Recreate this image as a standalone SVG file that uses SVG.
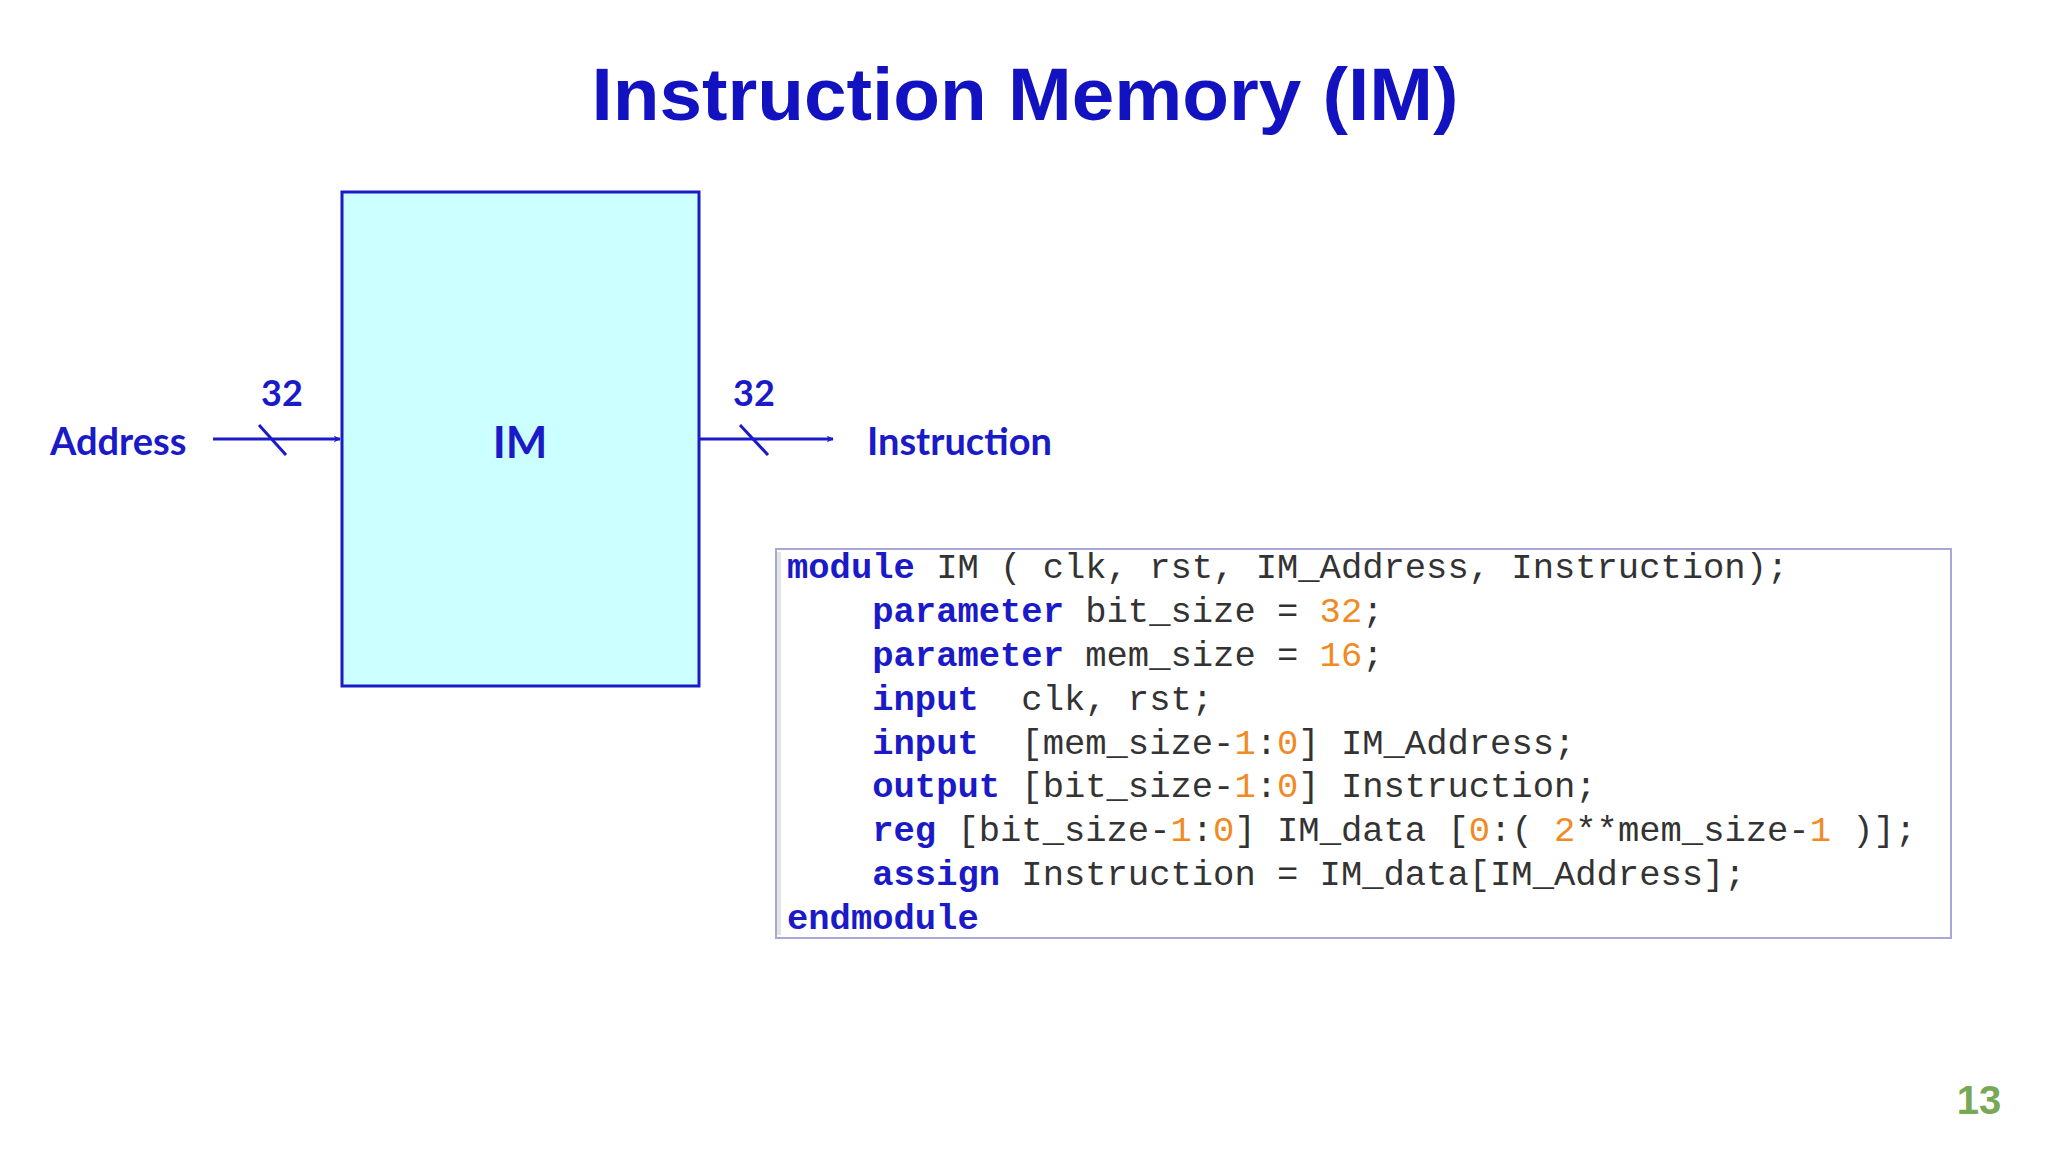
<svg xmlns="http://www.w3.org/2000/svg" width="2048" height="1152" viewBox="0 0 2048 1152">
<style>
.lbl{font-family:Lato,"Noto Sans",sans-serif;font-weight:bold;fill:#1a1ac8}
.code{font-family:"Liberation Mono","DejaVu Sans Mono",monospace;font-size:35.5px;fill:#333}
.k{font-weight:bold;fill:#1a1ac8}
.n{fill:#f08a24}
.w{stroke:#1a1ac8;stroke-width:3;fill:none}
</style>
<defs><marker id="ah" viewBox="0 0 10 10" refX="9" refY="5" markerWidth="7" markerHeight="7" markerUnits="userSpaceOnUse" orient="auto"><path d="M0,0 L10,5 L0,10 L3,5 Z" fill="#1a1ac8"/></marker></defs>
<rect width="2048" height="1152" fill="#fff"/>
<text x="1025" y="120" text-anchor="middle" font-family="'Liberation Sans',Arial,sans-serif" font-weight="bold" font-size="74" fill="#1212c0" textLength="867" lengthAdjust="spacingAndGlyphs">Instruction Memory (IM)</text>
<g id="im"><rect x="342" y="192" width="357" height="494" fill="#ccffff" stroke="#1a1ac8" stroke-width="3"/><text class="lbl" x="520" y="458" text-anchor="middle" font-size="44">IM</text></g>
<g id="address"><text class="lbl" x="50" y="455" font-size="38">Address</text></g>
<g id="instruction"><text class="lbl" x="867" y="455" font-size="38">Instruction</text></g>
<g id="connectors">
<line class="w" x1="213" y1="439" x2="340" y2="439" marker-end="url(#ah)"/>
<line class="w" x1="259" y1="425" x2="286" y2="455" stroke-width="2"/>
<text class="lbl" x="282" y="406" text-anchor="middle" font-size="36">32</text>
<line class="w" x1="699" y1="439" x2="833" y2="439" marker-end="url(#ah)"/>
<line class="w" x1="740" y1="425" x2="768" y2="455" stroke-width="2"/>
<text class="lbl" x="754" y="406" text-anchor="middle" font-size="36">32</text>
</g>
<g id="code">
<rect x="776" y="549" width="1175" height="389" fill="#fff" stroke="#a8a8d8" stroke-width="2"/>
<line x1="779" y1="552" x2="779" y2="935" stroke="#e4e4e4" stroke-width="4"/>
<text class="code" xml:space="preserve"><tspan x="787" y="578"><tspan class="k">module</tspan> IM ( clk, rst, IM_Address, Instruction);</tspan><tspan x="787" y="622">    <tspan class="k">parameter</tspan> bit_size = <tspan class="n">32</tspan>;</tspan><tspan x="787" y="666">    <tspan class="k">parameter</tspan> mem_size = <tspan class="n">16</tspan>;</tspan><tspan x="787" y="710">    <tspan class="k">input</tspan>  clk, rst;</tspan><tspan x="787" y="754">    <tspan class="k">input</tspan>  [mem_size-<tspan class="n">1</tspan>:<tspan class="n">0</tspan>] IM_Address;</tspan><tspan x="787" y="797">    <tspan class="k">output</tspan> [bit_size-<tspan class="n">1</tspan>:<tspan class="n">0</tspan>] Instruction;</tspan><tspan x="787" y="841">    <tspan class="k">reg</tspan> [bit_size-<tspan class="n">1</tspan>:<tspan class="n">0</tspan>] IM_data [<tspan class="n">0</tspan>:( <tspan class="n">2</tspan>**mem_size-<tspan class="n">1</tspan> )];</tspan><tspan x="787" y="885">    <tspan class="k">assign</tspan> Instruction = IM_data[IM_Address];</tspan><tspan x="787" y="929"><tspan class="k">endmodule</tspan></tspan></text>
</g>
<text x="1979" y="1114" text-anchor="middle" font-family="'Liberation Sans',Arial,sans-serif" font-weight="bold" font-size="40" fill="#77a855">13</text>
</svg>
